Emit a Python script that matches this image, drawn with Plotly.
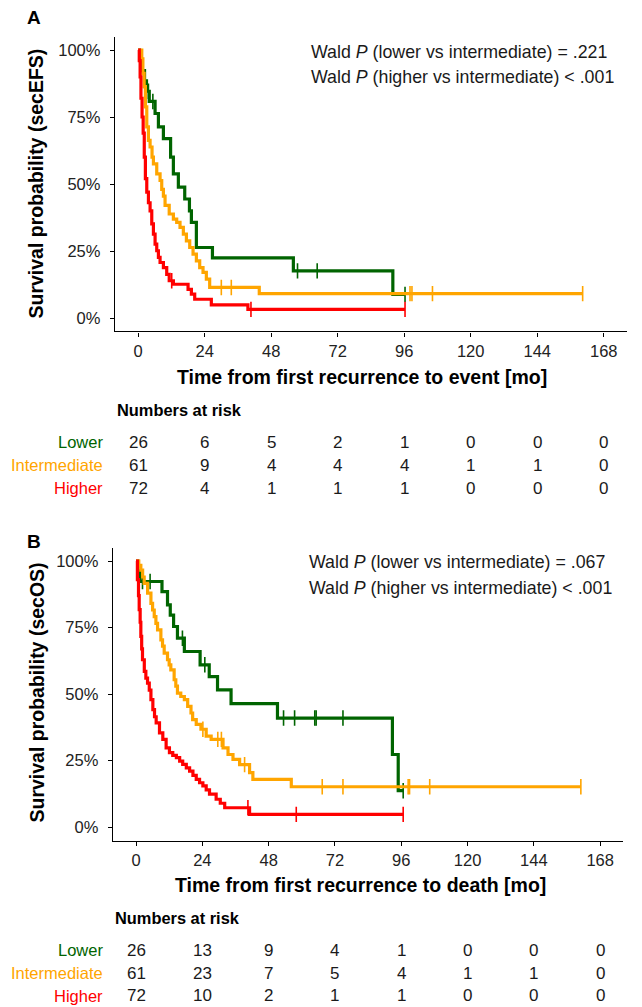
import plotly.graph_objects as go

# ---------------- data ----------------
GROUPS = ["Lower", "Intermediate", "Higher"]
COLORS = {"Lower": "#006400", "Intermediate": "#FFA500", "Higher": "#FF0000"}
TIME_TICKS = [0, 24, 48, 72, 96, 120, 144, 168]
PCT_TICKS = [0, 0.25, 0.5, 0.75, 1.0]
PCT_LABELS = ["0%", "25%", "50%", "75%", "100%"]

# Panel A: secEFS
efs_lower_t = [0, 0.5, 1.5, 2.3, 3.0, 4.0, 6.1, 7.3, 9.1, 11.7, 12.7, 14.5, 16.8, 18.5, 19.2, 21.0, 26.8, 56.0, 91.9]
efs_lower_s = [1.0, 0.962, 0.923, 0.885, 0.846, 0.808, 0.763, 0.713, 0.669, 0.60, 0.538, 0.488, 0.444, 0.40, 0.357, 0.263, 0.224, 0.176, 0.088]
efs_lower_cens = [2.3, 3.7, 5.3, 57.5, 64.6, 96.3]

efs_inter_t = [0, 1.3, 1.7, 2.15, 2.6, 3.1, 3.7, 4.3, 5.0, 5.5, 6.7, 7.9, 8.5, 9.1, 9.7, 11.2, 12.7, 13.9, 15.1, 16.3, 17.4, 18.6, 19.8, 21.0, 22.2, 23.4, 24.6, 25.8, 43.7]
efs_inter_s = [1.0, 0.967, 0.913, 0.863, 0.788, 0.713, 0.663, 0.638, 0.60, 0.575, 0.538, 0.513, 0.48, 0.455, 0.42, 0.388, 0.369, 0.357, 0.338, 0.313, 0.288, 0.263, 0.238, 0.213, 0.188, 0.170, 0.145, 0.114, 0.091]
efs_inter_cens = [30.0, 33.6, 98.1, 98.8, 106.2, 160.4]

efs_higher_t = [0, 0.4, 0.7, 1.0, 1.4, 1.8, 2.2, 2.6, 3.1, 3.7, 4.3, 4.9, 5.5, 6.1, 6.7, 7.3, 7.9, 9.1, 10.3, 11.2, 12.7, 18.0, 19.2, 20.4, 26.4, 39.6]
efs_higher_s = [1.0, 0.96, 0.90, 0.82, 0.75, 0.69, 0.60, 0.52, 0.47, 0.43, 0.40, 0.351, 0.313, 0.276, 0.251, 0.226, 0.207, 0.188, 0.163, 0.139, 0.126, 0.107, 0.089, 0.07, 0.049, 0.032]
efs_higher_cens = [12.1, 40.7, 96.3]

# Panel B: secOS
os_lower_t = [0, 0.7, 1.5, 9.4, 11.4, 12.4, 13.6, 15.0, 17.5, 23.2, 26.5, 29.5, 34.4, 51.2, 92.8, 94.9]
os_lower_s = [1.0, 0.962, 0.923, 0.885, 0.835, 0.797, 0.754, 0.71, 0.66, 0.61, 0.566, 0.516, 0.464, 0.41, 0.273, 0.137]
os_lower_cens = [2.35, 5.1, 16.8, 24.9, 53.4, 57.4, 64.7, 65.2, 74.9, 96.7]

os_inter_t = [0, 1.0, 1.75, 2.4, 2.96, 4.2, 5.4, 6.0, 6.6, 7.2, 7.8, 9.0, 9.6, 10.2, 11.4, 12.0, 12.6, 13.8, 14.4, 15.0, 16.2, 17.5, 18.7, 19.9, 20.5, 21.8, 23.5, 25.4, 27.2, 31.5, 33.3, 35.1, 37.5, 41.1, 42.3, 56.2]
os_inter_s = [1.0, 0.984, 0.966, 0.94, 0.916, 0.879, 0.841, 0.816, 0.791, 0.766, 0.741, 0.704, 0.68, 0.654, 0.629, 0.61, 0.591, 0.554, 0.53, 0.504, 0.491, 0.479, 0.454, 0.429, 0.404, 0.386, 0.368, 0.342, 0.330, 0.298, 0.273, 0.255, 0.235, 0.205, 0.18, 0.152]
os_inter_cens = [24.2, 29.6, 30.9, 39.3, 67.4, 74.9, 98.5, 99.0, 106.3, 161.0]

os_higher_t = [0, 0.5, 0.9, 1.15, 1.5, 1.75, 2.05, 2.35, 3.0, 3.56, 4.17, 4.8, 5.4, 6.1, 6.7, 7.3, 8.5, 9.7, 10.9, 12.1, 13.3, 14.6, 15.8, 16.9, 18.2, 19.4, 20.6, 21.8, 23.0, 24.2, 25.4, 26.6, 29.0, 30.5, 32.1, 41.1]
os_higher_s = [1.0, 0.93, 0.87, 0.817, 0.77, 0.717, 0.67, 0.629, 0.585, 0.56, 0.541, 0.515, 0.479, 0.442, 0.415, 0.392, 0.354, 0.33, 0.298, 0.28, 0.27, 0.261, 0.248, 0.236, 0.223, 0.211, 0.195, 0.18, 0.167, 0.155, 0.14, 0.124, 0.105, 0.09, 0.073, 0.048]
os_higher_cens = [40.5, 58.0, 96.7]

risk_efs = {"Lower": [26, 6, 5, 2, 1, 0, 0, 0],
            "Intermediate": [61, 9, 4, 4, 4, 1, 1, 0],
            "Higher": [72, 4, 1, 1, 1, 0, 0, 0]}
risk_os = {"Lower": [26, 13, 9, 4, 1, 0, 0, 0],
           "Intermediate": [61, 23, 7, 5, 4, 1, 1, 0],
           "Higher": [72, 10, 2, 1, 1, 0, 0, 0]}

wald_efs = ["Wald <i>P</i> (lower vs intermediate) = .221",
            "Wald <i>P</i> (higher vs intermediate) < .001"]
wald_os = ["Wald <i>P</i> (lower vs intermediate) = .067",
           "Wald <i>P</i> (higher vs intermediate) < .001"]

# ---------------- helpers ----------------
W, H = 642, 1007
FONT = "Liberation Sans, Arial, sans-serif"
TXT = "#1a1a1a"


def py(p):
    return 1 - p / H


def surv_at(ts, ss, t):
    v = ss[0]
    for ti, si in zip(ts, ss):
        if ti <= t:
            v = si
    return v


fig = go.Figure()

panels = [
    dict(xa="x", ya="y", curves=[("Lower", efs_lower_t, efs_lower_s, efs_lower_cens),
                                  ("Intermediate", efs_inter_t, efs_inter_s, efs_inter_cens),
                                  ("Higher", efs_higher_t, efs_higher_s, efs_higher_cens)]),
    dict(xa="x2", ya="y2", curves=[("Lower", os_lower_t, os_lower_s, os_lower_cens),
                                    ("Intermediate", os_inter_t, os_inter_s, os_inter_cens),
                                    ("Higher", os_higher_t, os_higher_s, os_higher_cens)]),
]

for p in panels:
    for name, ts, ss, cens in p["curves"]:
        t_end = max(cens[-1], ts[-1])
        xs = list(ts) + [t_end]
        ys = list(ss) + [ss[-1]]
        fig.add_trace(go.Scatter(x=xs, y=ys, mode="lines", line=dict(color=COLORS[name], width=3.2, shape="hv"),
                                 xaxis=p["xa"], yaxis=p["ya"], showlegend=False, hoverinfo="skip"))
        fig.add_trace(go.Scatter(x=cens, y=[surv_at(ts, ss, c) for c in cens], mode="markers",
                                 marker=dict(symbol="line-ns", size=11, line=dict(color=COLORS[name], width=1.6)),
                                 xaxis=p["xa"], yaxis=p["ya"], showlegend=False, hoverinfo="skip"))

axis_common = dict(showgrid=False, zeroline=False, showline=True, linecolor="black", linewidth=1.3,
                   ticks="outside", ticklen=4, tickwidth=1.3, tickcolor="black",
                   tickfont=dict(family=FONT, size=16.5, color="#222"))

fig.update_layout(
    width=W, height=H, margin=dict(l=0, r=0, t=0, b=0),
    paper_bgcolor="white", plot_bgcolor="white",
    xaxis=dict(domain=[114.9 / W, 627 / W], range=[-8.4, 176.4], tickvals=TIME_TICKS, anchor="y",
               ticklabelstandoff=1, **axis_common),
    yaxis=dict(domain=[py(331.4), py(36.6)], range=[-0.05, 1.05], tickvals=PCT_TICKS, ticktext=PCT_LABELS,
               anchor="x", ticklabelstandoff=6, **axis_common),
    xaxis2=dict(domain=[112.8 / W, 623.4 / W], range=[-8.4, 176.4], tickvals=TIME_TICKS, anchor="y2",
                ticklabelstandoff=1, **axis_common),
    yaxis2=dict(domain=[py(840.5), py(547.7)], range=[-0.05, 1.05], tickvals=PCT_TICKS, ticktext=PCT_LABELS,
                anchor="x2", ticklabelstandoff=6, **axis_common),
)

ann = []


def add_text(text, x, y, xref="paper", size=15, bold=False, color=TXT, xanchor="center", angle=0):
    if bold:
        text = "<b>" + text + "</b>"
    ann.append(dict(text=text, x=x, y=y, xref=xref, yref="paper", showarrow=False, xanchor=xanchor,
                    yanchor="middle", textangle=angle, font=dict(family=FONT, size=size, color=color)))


# Panel labels
add_text("A", 33.5 / W, py(18), size=19, bold=True, color="black")
add_text("B", 33.5 / W, py(541.5), size=19, bold=True, color="black")

# Axis titles
add_text("Survival probability (secEFS)", 35 / W, py(183.5), size=19.5, bold=True, color="black", angle=-90)
add_text("Time from first recurrence to event [mo]", 175 / W, py(377), size=19.5, bold=True, color="black",
         xanchor="left")
add_text("Survival probability (secOS)", 36 / W, py(692.5), size=19.5, bold=True, color="black", angle=-90)
add_text("Time from first recurrence to death [mo]", 173.3 / W, py(885), size=19.5, bold=True, color="black",
         xanchor="left")

# Wald texts
for i, line in enumerate(wald_efs):
    add_text(line, 309.3 / W, py(51.7 + 25.6 * i), size=17.8, xanchor="left")
for i, line in enumerate(wald_os):
    add_text(line, 306.7 / W, py(561.7 + 26.6 * i), size=17.8, xanchor="left")

# Risk tables
for risk, xref, head_y, head_x, row_y in [(risk_efs, "x", 410, 115, [442.3, 465, 488.3]),
                                          (risk_os, "x2", 918.3, 112.7, [950, 973.3, 995.7])]:
    add_text("Numbers at risk", head_x / W, py(head_y), size=16.4, bold=True, color="black", xanchor="left")
    for g, yy in zip(GROUPS, row_y):
        add_text(g, 104.5 / W, py(yy), size=16.5, color=COLORS[g], xanchor="right")
        for t, n in zip(TIME_TICKS, risk[g]):
            add_text(str(n), t, py(yy), xref=xref, size=17, color=TXT)

fig.update_layout(annotations=ann)
fig.write_html("out.html", config={"displayModeBar": False},
               post_script="document.body.style.margin='0px';")
